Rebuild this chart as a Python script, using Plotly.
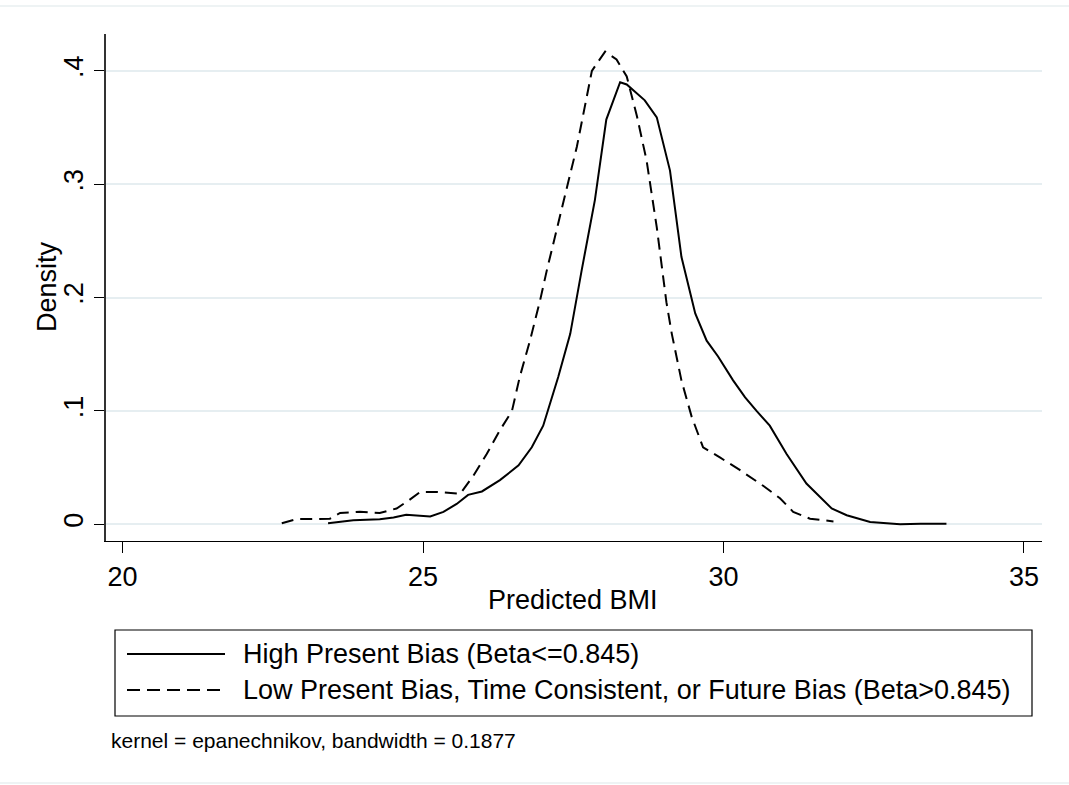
import plotly.graph_objects as go

# ---- data ----
high_x = [23.42, 23.84, 24.28, 24.51, 24.72, 25.12, 25.34, 25.56, 25.75, 25.98,
          26.28, 26.59, 26.81, 27.00, 27.25, 27.45, 27.64, 27.86, 28.05, 28.28,
          28.39, 28.69, 28.89, 29.11, 29.30, 29.53, 29.72, 29.91, 30.16, 30.36,
          30.55, 30.77, 31.05, 31.38, 31.80, 32.05, 32.44, 32.94, 33.28, 33.71]
high_y = [0.001, 0.0035, 0.0045, 0.006, 0.0085, 0.007, 0.011, 0.018, 0.026, 0.029,
          0.039, 0.052, 0.068, 0.087, 0.130, 0.168, 0.224, 0.286, 0.357, 0.390,
          0.388, 0.374, 0.359, 0.312, 0.236, 0.186, 0.162, 0.148, 0.127, 0.112,
          0.100, 0.087, 0.062, 0.036, 0.014, 0.008, 0.002, 0.0, 0.0006, 0.0006]

low_x = [22.65, 22.90, 23.23, 23.45, 23.62, 23.95, 24.28, 24.56, 24.76, 24.95,
         25.23, 25.62, 25.84, 26.06, 26.28, 26.48, 26.61, 26.78, 26.95, 27.06,
         27.33, 27.56, 27.81, 28.03, 28.22, 28.39, 28.56, 28.72, 28.89, 29.05,
         29.14, 29.30, 29.47, 29.66, 29.94, 30.27, 30.66, 30.94, 31.16, 31.44, 31.83]
low_y = [0.001, 0.0047, 0.0047, 0.005, 0.010, 0.011, 0.010, 0.014, 0.021, 0.0285,
         0.0285, 0.027, 0.043, 0.062, 0.083, 0.100, 0.130, 0.162, 0.198, 0.224,
         0.283, 0.333, 0.400, 0.417, 0.410, 0.395, 0.360, 0.321, 0.262, 0.196,
         0.168, 0.127, 0.095, 0.068, 0.059, 0.048, 0.034, 0.023, 0.011, 0.005, 0.0026]

x_ticks = [20, 25, 30, 35]
y_ticks = [0, 0.1, 0.2, 0.3, 0.4]
y_tick_labels = ["0", ".1", ".2", ".3", ".4"]

name_high = "High Present Bias (Beta<=0.845)"
name_low = "Low Present Bias, Time Consistent, or Future Bias (Beta>0.845)"
note = "kernel = epanechnikov, bandwidth = 0.1877"

FONT = "Liberation Sans, Arial, sans-serif"
BIG = 27
W, H = 1069, 785
L, R, T, B = 106, 27, 34, 244
PW, PH = W - L - R, H - T - B


def px(xp):
    return (xp - L) / PW


def py(yp):
    return (H - B - yp) / PH


fig = go.Figure()
fig.add_trace(go.Scatter(x=high_x, y=high_y, mode="lines", name=name_high,
                         line=dict(color="black", width=2), showlegend=False,
                         hoverinfo="skip"))
fig.add_trace(go.Scatter(x=low_x, y=low_y, mode="lines", name=name_low,
                         line=dict(color="black", width=2, dash="12px,7px"),
                         showlegend=False, hoverinfo="skip"))

shapes = []
# faint outer frame lines
for yp in (6, 783):
    shapes.append(dict(type="line", xref="paper", yref="paper",
                       x0=px(0), x1=px(W), y0=py(yp), y1=py(yp),
                       line=dict(color="#e8eff1", width=1.5)))
# legend box
shapes.append(dict(type="rect", xref="paper", yref="paper",
                   x0=px(115), x1=px(1032), y0=py(630), y1=py(716),
                   line=dict(color="black", width=1.2), fillcolor="white"))
# legend samples
shapes.append(dict(type="line", xref="paper", yref="paper",
                   x0=px(127), x1=px(225), y0=py(654), y1=py(654),
                   line=dict(color="black", width=2)))
shapes.append(dict(type="line", xref="paper", yref="paper",
                   x0=px(127), x1=px(225), y0=py(690), y1=py(690),
                   line=dict(color="black", width=2, dash="13px,7px")))

annotations = [
    dict(text=name_high, xref="paper", yref="paper", x=px(241), y=py(654),
         xanchor="left", yanchor="middle", showarrow=False,
         font=dict(family=FONT, size=BIG, color="black")),
    dict(text=name_low, xref="paper", yref="paper", x=px(241), y=py(690),
         xanchor="left", yanchor="middle", showarrow=False,
         font=dict(family=FONT, size=BIG, color="black")),
    dict(text=note, xref="paper", yref="paper", x=px(109), y=py(740),
         xanchor="left", yanchor="middle", showarrow=False,
         font=dict(family=FONT, size=21, color="black")),
    dict(text="Predicted BMI", xref="paper", yref="paper", x=px(573), y=py(600),
         xanchor="center", yanchor="middle", showarrow=False,
         font=dict(family=FONT, size=BIG, color="black")),
    dict(text="Density", xref="paper", yref="paper", x=px(47), y=py(287),
         xanchor="center", yanchor="middle", showarrow=False, textangle=-90,
         font=dict(family=FONT, size=BIG, color="black")),
]

fig.update_layout(
    width=W, height=H,
    margin=dict(l=L, r=R, t=T, b=B, autoexpand=False),
    paper_bgcolor="white", plot_bgcolor="white",
    font=dict(family=FONT, color="black"),
    shapes=shapes, annotations=annotations, showlegend=False,
    hovermode=False,
)
fig.update_xaxes(range=[19.725, 35.3], tickvals=x_ticks, ticktext=[str(v) for v in x_ticks],
                 showgrid=False, zeroline=False, showline=True, linecolor="black", linewidth=1.3,
                 ticks="outside", ticklen=11, tickcolor="black", tickwidth=1.3,
                 tickfont=dict(family=FONT, size=BIG, color="black"))
fig.update_yaxes(range=[-0.0147, 0.4325], tickvals=y_ticks, ticktext=y_tick_labels,
                 tickangle=-90, showgrid=True, gridcolor="#e6eef1", gridwidth=1.5,
                 zeroline=False, showline=True, linecolor="#333", linewidth=1.6,
                 ticks="outside", ticklen=10, tickcolor="black", tickwidth=1.3,
                 tickfont=dict(family=FONT, size=BIG, color="black"))

fig.write_html("out.html", config={"displayModeBar": False},
               post_script="document.body.style.margin='0px';")
